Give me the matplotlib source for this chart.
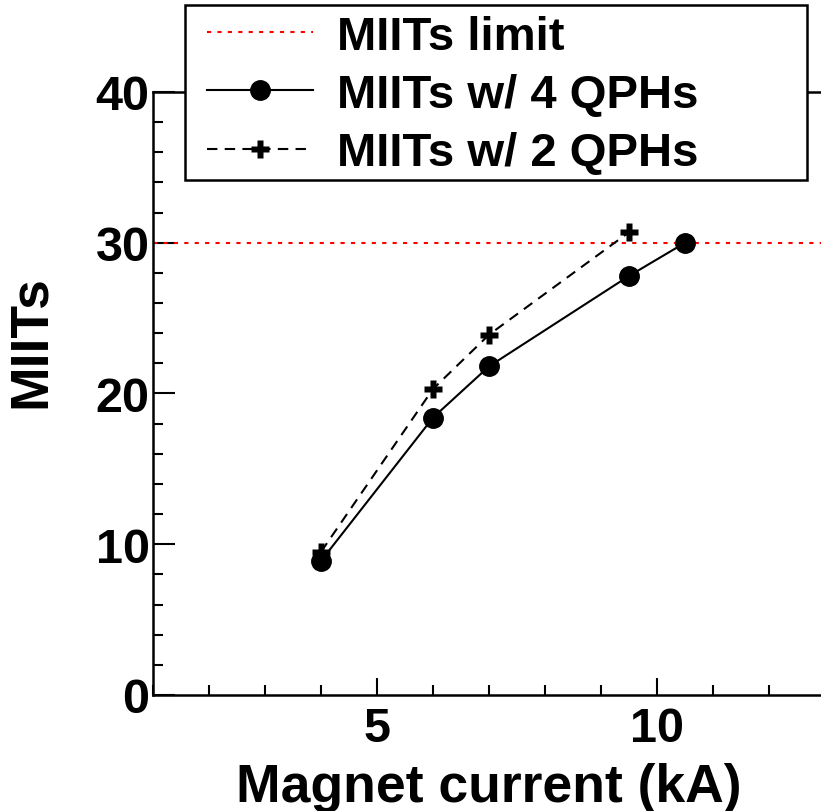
import numpy as np
import matplotlib
matplotlib.use("Agg")
import matplotlib.pyplot as plt
from matplotlib.patches import Rectangle
from matplotlib.ticker import MultipleLocator

# Magnet current (kA) vs MIITs
current_4qph = [4.0, 6.0, 7.0, 9.5, 10.5]
miits_4qph = [8.9, 18.4, 21.8, 27.8, 30.0]
current_2qph = [4.0, 6.0, 7.0, 9.5]
miits_2qph = [9.5, 20.3, 23.9, 30.7]
miits_limit = 30.0

plt.rcParams['font.family'] = ['Liberation Sans', 'DejaVu Sans']
plt.rcParams['font.weight'] = 'bold'

fig = plt.figure(figsize=(8.21, 8.12), dpi=100)
ax = fig.add_axes([0.1864, 0.1429, 0.8186, 0.7426])

ax.axhline(miits_limit, color='red', lw=1.5, dashes=(2, 3), label='MIITs limit')
ax.plot(current_4qph, miits_4qph, color='black', lw=1.5, marker='o', ms=14,
        label='MIITs w/ 4 QPHs')
ax.plot(current_2qph, miits_2qph, color='black', lw=1.5, dashes=(5, 3.5), marker='P',
        ms=13, mec='none', label='MIITs w/ 2 QPHs')

ax.set_xlim(1, 13)
ax.set_ylim(0, 40)
ax.xaxis.set_major_locator(MultipleLocator(5))
ax.xaxis.set_minor_locator(MultipleLocator(1))
ax.yaxis.set_major_locator(MultipleLocator(10))
ax.yaxis.set_minor_locator(MultipleLocator(2))
ax.tick_params(which='both', direction='in', width=1.5, labelsize=35)
ax.tick_params(axis='x', which='major', length=12.5, pad=8)
ax.tick_params(axis='y', which='major', length=16, pad=2.5)
ax.tick_params(which='minor', length=7)
for s in ax.spines.values():
    s.set_linewidth(1.8)

ax.set_xlabel('Magnet current (kA)', fontsize=38.5, fontweight='bold', labelpad=8)
ax.set_ylabel('MIITs', fontsize=38.5, fontweight='bold')
ax.yaxis.set_label_coords(-0.144, 0.587)

# legend box (white, covers the top frame line)
box = Rectangle((185 / 821, 1 - 181 / 812), 622 / 821, 175 / 812, transform=fig.transFigure,
                facecolor='white', edgecolor='black', lw=1.8, clip_on=False, zorder=4.5)
ax.add_patch(box)

leg = ax.legend(loc='upper left', bbox_to_anchor=(0.0804, 1.128), fontsize=34,
                frameon=False, borderpad=0, borderaxespad=0,
                handlelength=2.25, handletextpad=0.5, labelspacing=0.3)
leg.set_zorder(5)

fig.savefig('out.png', dpi=100)
